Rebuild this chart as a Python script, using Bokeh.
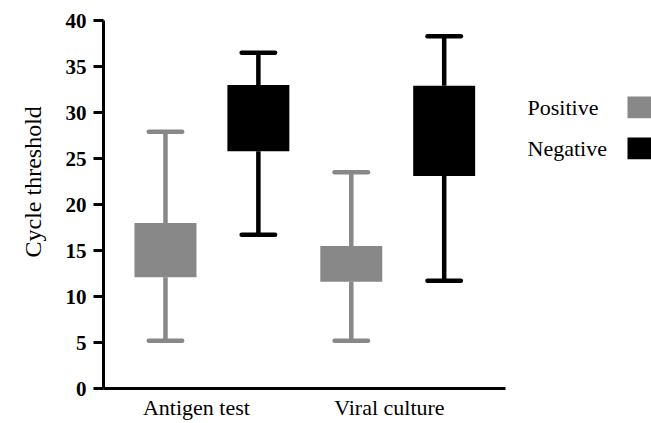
from bokeh.plotting import figure
from bokeh.layouts import row
from bokeh.models import Range1d, FixedTicker, ColumnDataSource, Title
from bokeh.core.properties import value
from bokeh.embed import file_html
from bokeh.resources import INLINE

# ---- data ----
groups = ["Antigen test", "Viral culture"]
series = ["Positive", "Negative"]
colors = ["#888888", "#000000"]
# per box: Antigen-Positive, Antigen-Negative, Viral-Positive, Viral-Negative
whisker_low = [5.2, 16.7, 5.2, 11.7]
q1 = [12.1, 25.8, 11.6, 23.1]
q3 = [18.0, 33.0, 15.5, 32.9]
whisker_high = [27.9, 36.5, 23.5, 38.3]
y_ticks = [0, 5, 10, 15, 20, 25, 30, 35, 40]
y_title = "Cycle threshold"

SERIF = "Liberation Serif"
W, H = 651, 423
MAIN_W = 515
LEFT, TOP, BOTTOM = 103, 20, 35

xs = [1, 2, 3, 4]
box_colors = [colors[i % 2] for i in range(4)]
src = ColumnDataSource(dict(x=xs, q1=q1, q3=q3, lo=whisker_low, hi=whisker_high,
                            c=box_colors))

p = figure(width=MAIN_W, height=H, output_backend="svg", toolbar_location=None,
           x_range=Range1d(0.333, 4.66), y_range=Range1d(0, 40),
           min_border_left=LEFT, min_border_right=10, min_border_top=TOP,
           min_border_bottom=BOTTOM)
p.outline_line_color = None
p.grid.visible = False
p.background_fill_color = "white"

# whiskers
p.segment(x0="x", x1="x", y0="lo", y1="q1", source=src, line_color="c", line_width=4.5)
p.segment(x0="x", x1="x", y0="q3", y1="hi", source=src, line_color="c", line_width=4.5)
cap = 0.18
src_caps = ColumnDataSource(dict(x0=[x - cap for x in xs] * 2, x1=[x + cap for x in xs] * 2,
                                 y=whisker_low + whisker_high, c=box_colors * 2))
p.segment(x0="x0", x1="x1", y0="y", y1="y", source=src_caps, line_color="c",
          line_width=4.5, line_cap="round")
# boxes
p.vbar(x="x", width=0.667, bottom="q1", top="q3", source=src, fill_color="c",
       line_color=None)

# y axis
p.yaxis.ticker = FixedTicker(ticks=y_ticks)
p.yaxis.major_label_text_font = SERIF
p.yaxis.major_label_text_font_style = "bold"
p.yaxis.major_label_text_font_size = "21px"
p.yaxis.major_label_text_color = "black"
p.yaxis.major_label_standoff = 7
p.yaxis.major_tick_out = 10
p.yaxis.major_tick_in = 0
p.yaxis.minor_tick_line_color = None
p.yaxis.major_tick_line_width = 3
p.yaxis.axis_line_width = 3
p.yaxis.axis_line_color = "black"

p.add_layout(Title(text=y_title, align="left", offset=131, standoff=34, text_font=SERIF,
                   text_font_size="24px", text_font_style="normal",
                   text_color="black"), "left")

# x axis: group labels as tick labels
label_x = [1.5 - 0.167, 3.5 - 0.09]
p.xaxis.ticker = FixedTicker(ticks=label_x)
p.xaxis.major_label_overrides = {label_x[i]: groups[i] for i in range(2)}
p.xaxis.major_label_text_font = SERIF
p.xaxis.major_label_text_font_size = "22px"
p.xaxis.major_label_text_color = "black"
p.xaxis.major_label_standoff = 6
p.xaxis.major_tick_out = 0
p.xaxis.major_tick_in = 0
p.xaxis.major_tick_line_color = None
p.xaxis.minor_tick_line_color = None
p.xaxis.axis_line_width = 3
p.xaxis.axis_line_color = "black"

# legend figure
LW = W - MAIN_W
lg = figure(width=LW, height=H, output_backend="svg", toolbar_location=None,
            x_range=Range1d(0, LW), y_range=Range1d(H, 0), min_border=0)
lg.axis.visible = False
lg.grid.visible = False
lg.outline_line_color = None
ly = [100, 147]
lg.text(x=[12, 12], y=ly, text=series, text_font=value(SERIF), text_font_size="22px",
        text_baseline="middle", text_color="black")
lg.rect(x=[125, 125], y=ly, width=26, height=25, fill_color=colors, line_color=None)

layout = row(p, lg)
open("out.html", "w").write(file_html(layout, INLINE))
